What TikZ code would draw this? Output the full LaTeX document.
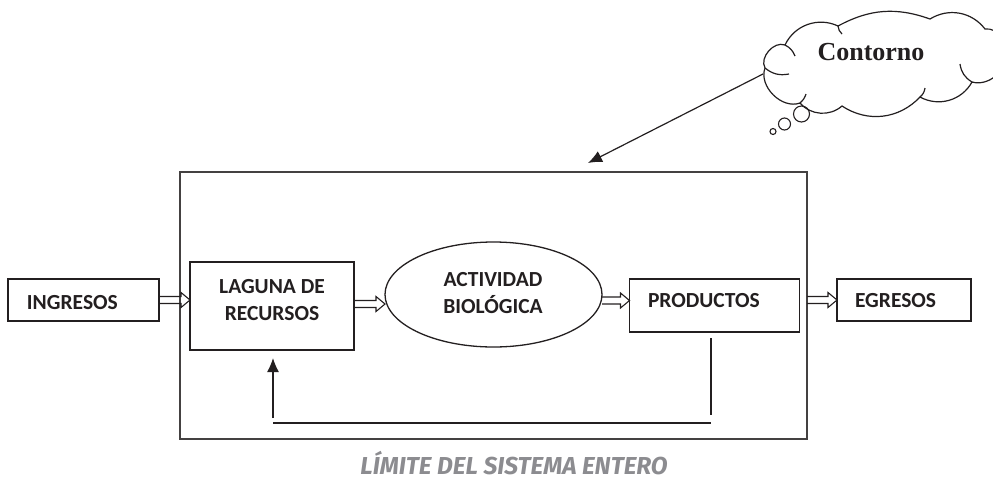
\documentclass[tikz,border=0pt]{standalone}
\usepackage{fontspec}
\setmainfont{Carlito}
\newfontfamily\serifbold{Liberation Serif}
\newfontfamily\captionfont{Fira Sans}
\usetikzlibrary{shapes.geometric,arrows.meta,calc}
\definecolor{ink}{HTML}{231F20}
\definecolor{capgray}{HTML}{8C8C90}

\begin{document}
\begin{tikzpicture}[x=1pt,y=-1pt,
  every node/.style={inner sep=0pt, outer sep=0pt},
  box/.style={draw=ink, line width=1.4pt, rectangle},
  lbl/.style={font=\fontsize{21.5}{27}\selectfont\bfseries, text=ink, align=center},
  thin/.style={draw=ink, line width=1.2pt},
  cloudline/.style={draw=ink, line width=1.2pt},
  % outlined block arrow; it runs level at the height of its start point
  holarrow/.style={draw=ink, line width=1.1pt, to path={
    let \p1=(\tikztostart), \p2=(\tikztotarget) in
    ({\x1},{\y1+3.5pt}) -- ({\x2-9pt},{\y1+3.5pt}) -- ({\x2-9pt},{\y1+7.5pt})
    -- ({\x2},{\y1}) -- ({\x2-9pt},{\y1-7.5pt}) -- ({\x2-9pt},{\y1-3.5pt})
    -- ({\x1},{\y1-3.5pt})}},
  bubble/.style={draw=ink, line width=1.1pt, circle},
]
\useasboundingbox (0,0) rectangle (993,480);

% system boundary
\node[draw=ink!85, line width=1.8pt, rectangle, minimum width=627, minimum height=267] (frame) at (493.5,305.5) {};

% blocks
\node[box, minimum width=151, minimum height=42] (ing) at (83.5,300) {};
\node[lbl, anchor=base west] (ingt) at (27,309) {INGRESOS};

\node[box, minimum width=164, minimum height=88] (lag) at (272,306) {};
\node[lbl] (lagt) at (272,300) {LAGUNA DE\\RECURSOS};

\node[draw=ink, line width=1.3pt, ellipse, minimum width=217, minimum height=105] (eli) at (493.5,294.5) {};
\node[lbl] (elit) at (493,293) {ACTIVIDAD\\BIOLÓGICA};

\node[box, minimum width=170, minimum height=53] (prod) at (714.5,305.5) {};
\node[lbl, anchor=base west] (prodt) at (648,307) {PRODUCTOS};

\node[box, minimum width=134, minimum height=42] (egr) at (904,300) {};
\node[lbl, anchor=base west] (egrt) at (855,307) {EGRESOS};

% flow arrows
\draw[holarrow] (ing.east) to (lag.west);
\draw[holarrow] ([yshift=2pt]lag.east) to (eli.west);
\draw[holarrow] ([yshift=-6pt]eli.east) to (prod.west);
\draw[holarrow] (frame.east |- egr.west) to (egr.west);

% feedback loop
\coordinate (fbtop) at (711,338);
\coordinate (fbbot) at (711,415);
\coordinate (fbleft) at (273,423);
\coordinate (fbright) at (711,423);
\coordinate (upfrom) at (273,418);
\coordinate (upto) at (273,358);
\draw[thin] (fbtop) -- (fbbot);
\draw[thin] (fbleft) -- (fbright);
\draw[thin, -{Latex[length=14pt,width=12pt]}] (upfrom) -- (upto);

% surroundings: thought cloud drawn puff by puff
\draw[cloudline] (765,68) to[bend left=70] (785,45) to[bend left=45] (838,26)
  to[bend left=24] (930,19) to[bend left=42] (985,29) to[bend left=60] (1005,55)
  to[bend left=55] (972,82) to[bend left=45] (920,97) to[bend left=40] (842,106)
  to[bend left=45] (800,103) to[bend left=65] cycle;
% inner fold strokes of the cloud
\draw[cloudline] (765,68) to[bend right=25] (789,74);
\draw[cloudline] (785,45) to[bend left=20] (795,56);
\draw[cloudline] (838,26) to[bend right=20] (842,34);
\draw[cloudline] (972,82) to[bend left=25] (960,64);
\draw[cloudline] (920,97) to[bend right=20] (925,88);
\draw[cloudline] (800,103) to[bend right=15] (806,94);
\coordinate (cloudtail) at (763,74);
\node[font=\serifbold\bfseries\fontsize{26}{26}\selectfont, text=ink] (cont) at (871,52) {Contorno};
\node[bubble, minimum size=16] (b1) at (801.5,114) {};
\node[bubble, minimum size=12] (b2) at (784.5,124) {};
\node[bubble, minimum size=6] (b3) at (773,131.5) {};

\coordinate (bdry) at (588,163);
\draw[thin, -{Latex[length=14pt,width=12pt]}] (cloudtail) -- (bdry);

% caption
\node[font=\captionfont\bfseries\itshape\fontsize{24.5}{24.5}\selectfont, text=capgray, anchor=base] (limit) at (514,474) {LÍMITE DEL SISTEMA ENTERO};
\end{tikzpicture}
\end{document}
